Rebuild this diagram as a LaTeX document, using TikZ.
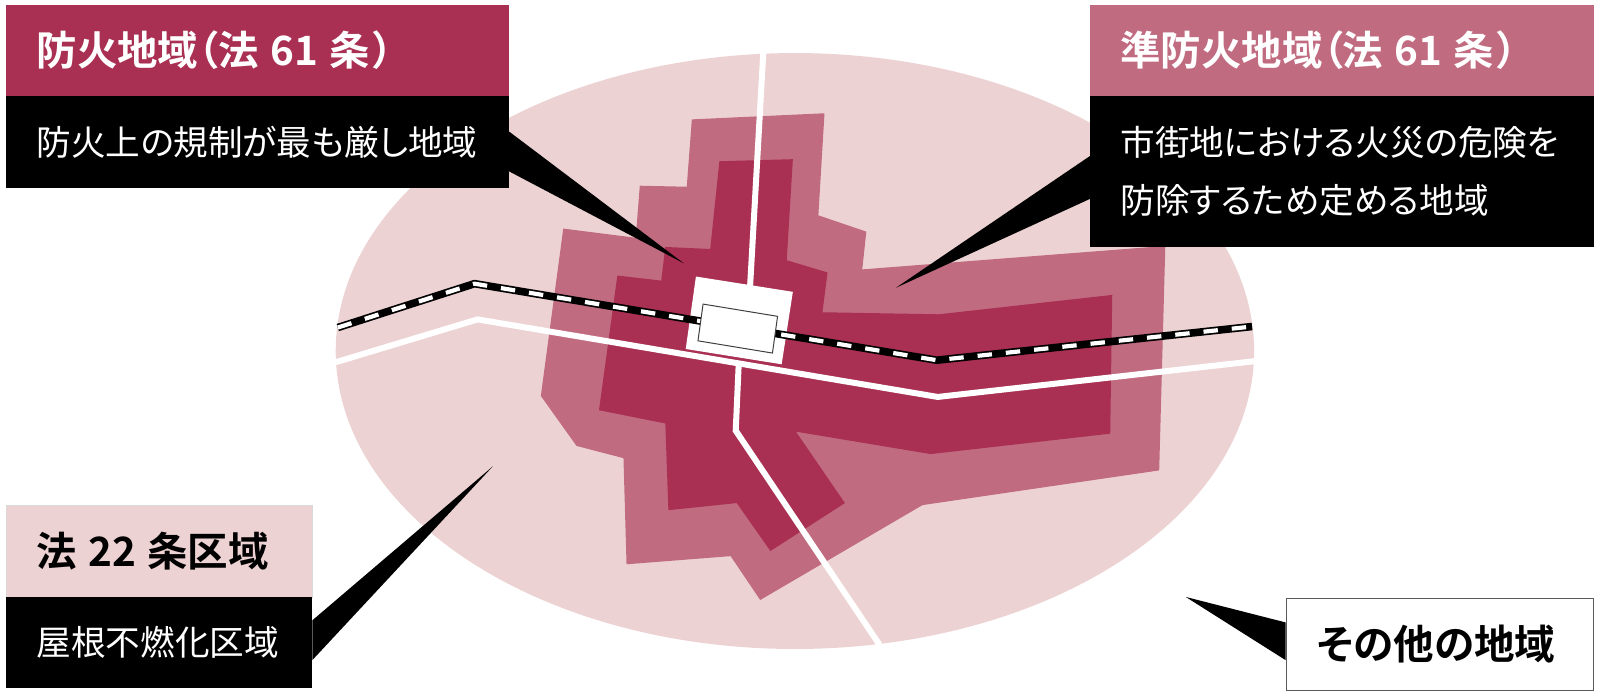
\documentclass[tikz,border=0pt]{standalone}
\usepackage{fontspec}
\setmainfont{Noto Sans CJK JP}[RawFeature=+palt,BoldFont={Noto Sans CJK JP Bold}]
\definecolor{cdark}{HTML}{A93052}
\definecolor{cmid}{HTML}{C16B81}
\definecolor{clight}{HTML}{EDD2D3}
\newcommand{\thinsp}{\hspace{0.28em}}
\tikzset{
  x=0.5102pt,y=-0.5102pt,
  road/.style={draw=white,line width=3pt,line join=miter},
  wedge/.style={fill=black,draw=none},
  cbox/.style={anchor=north west,inner ysep=0pt,inner xsep=15.3pt,outer sep=0pt,rectangle,align=left},
  title/.style={cbox,font=\fontsize{20.2}{24}\selectfont\bfseries},
  body/.style={cbox,font=\fontsize{17.3}{28.6}\selectfont,fill=black,text=white},
}
\begin{document}
\begin{tikzpicture}
\useasboundingbox (0,0) rectangle (1568,682);
% ground
\fill[clight] (779,344) ellipse [x radius=450,y radius=292];
% zones
\fill[cmid] (678,117)--(808,111)--(802,211)--(849,227)--(845,264)--(1142,241)--(1136,461)--(904,495)--(745,588)--(716,545)--(614,553)--(611,449)--(565,437)--(530,388)--(552,224)--(623,233)--(627,182)--(673,183)--cycle;
\fill[cdark] (705,158)--(777,156)--(771,255)--(811,267)--(806,306)--(920,308)--(1090,289)--(1088,425)--(912,445)--(780,423)--(828,493)--(755,540)--(722,493)--(655,500)--(652,415)--(587,402)--(605,270)--(648,275)--(652,242)--(696,244)--cycle;
% station forecourt
\fill[white] (682,271)--(777,286)--(766,357)--(672,342)--cycle;
% roads
\coordinate (rv1) at (748,52); \coordinate (rv2) at (735,282);
\draw[road] (rv1)--(rv2);
\coordinate (rh1) at (329,355); \coordinate (rh2) at (468,313); \coordinate (rh3) at (919,389); \coordinate (rh4) at (1229,354);
\draw[road] (rh1)--(rh2)--(rh3)--(rh4);
\coordinate (rs1) at (724,355); \coordinate (rs2) at (721,422); \coordinate (rs3) at (862,632);
\draw[road] (rs1)--(rs2)--(rs3);
% railway
\coordinate (t1) at (331,321); \coordinate (t2) at (465,278); \coordinate (t3) at (918,353); \coordinate (t4) at (1227,320);
\draw[black,line width=3.8pt] (t1)--(t2)--(t3)--(t4);
\draw[white,line width=2.1pt,dash pattern=on 7.2pt off 7pt] (t1)--(t2)--(t3)--(t4);
% station building
\draw[black!75,fill=white,line width=0.5pt] (689,298)--(762,310)--(757,346)--(684,334)--cycle;
% callout wedges
\coordinate (w1a) at (499,129); \coordinate (w1b) at (499,168); \coordinate (w1t) at (670,258);
\fill[wedge] (w1a)--(w1t)--(w1b)--cycle;
\coordinate (w2a) at (1068,153); \coordinate (w2b) at (1068,195); \coordinate (w2t) at (878,282);
\fill[wedge] (w2a)--(w2t)--(w2b)--cycle;
\coordinate (w3a) at (306,608); \coordinate (w3b) at (306,647); \coordinate (w3t) at (483,457);
\fill[wedge] (w3a)--(w3t)--(w3b)--cycle;
\coordinate (w4a) at (1260,610); \coordinate (w4b) at (1260,647); \coordinate (w4t) at (1162,585);
\fill[wedge] (w4a)--(w4t)--(w4b)--cycle;
% boxes
\node[title,fill=cdark,text=white,minimum height=45.4pt,text width=221pt] (b1h) at (6,5) {防火地域（法\thinsp 61\thinsp 条\hspace{0.1em}）};
\node[body,minimum height=45.9pt,text width=221pt] (b1b) at (6,94) {防火上の規制が最も厳し地域};
\node[title,fill=cmid,text=white,minimum height=45.4pt,text width=221.5pt] (b2h) at (1068,5) {準防火地域（法\thinsp 61\thinsp 条\hspace{0.1em}）};
\node[body,minimum height=75.5pt,text width=221.5pt] (b2b) at (1068,94) {市街地における火災の危険を\\防除するため定める地域};
\node[title,fill=clight,draw=black!15,line width=0.3pt,text=black,minimum height=45.9pt,text width=122.5pt] (b3h) at (6,495) {法\thinsp 22\thinsp 条区域};
\node[body,minimum height=45.4pt,text width=122.5pt] (b3b) at (6,585) {屋根不燃化区域};
\node[anchor=north west,rectangle,draw=black!65,line width=0.5pt,fill=white,inner xsep=15.6pt,inner ysep=0pt,minimum width=153.6pt,minimum height=45.9pt,text width=122.4pt,align=left,font=\fontsize{20.3}{24}\selectfont\bfseries] (b4) at (1260,586) {その他の地域};
\end{tikzpicture}
\end{document}
